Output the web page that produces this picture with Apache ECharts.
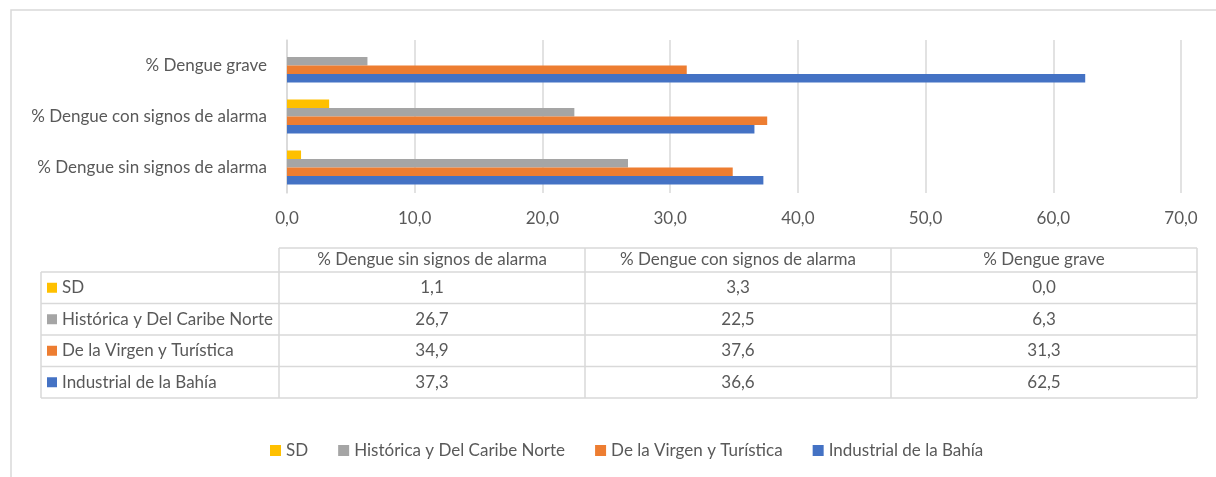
<!DOCTYPE html>
<html>
<head>
<meta charset="utf-8">
<script src="https://cdn.jsdelivr.net/npm/echarts@6/dist/echarts.min.js"></script>
<style>
  html, body { margin: 0; padding: 0; background: #fff; }
  #main { width: 1216px; height: 477px; }
</style>
</head>
<body>
<div id="main"></div>
<script>
// datos
const categories = ['% Dengue sin signos de alarma', '% Dengue con signos de alarma', '% Dengue grave'];
const seriesNames = ['SD', 'Histórica y Del Caribe Norte', 'De la Virgen y Turística', 'Industrial de la Bahía'];
const sdValues = [1.1, 3.3, 0.0];
const historicaValues = [26.7, 22.5, 6.3];
const virgenValues = [34.9, 37.6, 31.3];
const industrialValues = [37.3, 36.6, 62.5];
const colors = ['#FFC000', '#A5A5A5', '#ED7D31', '#4472C4'];

const allValues = [sdValues, historicaValues, virgenValues, industrialValues];
const FONT = 'Lato';
const FS = 17;
const TXT = '#595959';
const LINE = '#d9d9d9';

const fmt = v => v.toFixed(1).replace('.', ',');

const myChart = echarts.init(document.getElementById('main'));

// tabla de datos (debajo del grafico)
const colX = [41, 279, 585, 891, 1197];
const rowY = [248, 272, 303.5, 335, 366.5, 398];

const buildTable = () => {
  const els = [];
  // marco exterior
  els.push({
    type: 'rect', silent: true,
    shape: { x: 11, y: 10, width: 1230, height: 500 },
    style: { fill: 'none', stroke: LINE, lineWidth: 1.5 }
  });
  // lineas horizontales
  rowY.forEach((y, i) => {
    els.push({
      type: 'line', silent: true,
      shape: { x1: i === 0 ? colX[1] : colX[0], y1: y, x2: colX[4], y2: y },
      style: { stroke: LINE, lineWidth: 1.5 }
    });
  });
  // lineas verticales
  colX.forEach((x, i) => {
    els.push({
      type: 'line', silent: true,
      shape: { x1: x, y1: i === 0 ? rowY[1] : rowY[0], x2: x, y2: rowY[5] },
      style: { stroke: LINE, lineWidth: 1.5 }
    });
  });
  // encabezados
  categories.forEach((c, j) => {
    els.push({
      type: 'text', silent: true,
      x: (colX[j + 1] + colX[j + 2]) / 2, y: (rowY[0] + rowY[1]) / 2,
      style: { text: c, fill: TXT, font: FS + 'px ' + FONT, align: 'center', verticalAlign: 'middle' }
    });
  });
  // filas
  seriesNames.forEach((name, i) => {
    const cy = (rowY[i + 1] + rowY[i + 2]) / 2;
    els.push({
      type: 'rect', silent: true,
      shape: { x: 47, y: cy - 5, width: 10, height: 10 },
      style: { fill: colors[i] }
    });
    els.push({
      type: 'text', silent: true,
      x: 62, y: cy,
      style: { text: name, fill: TXT, font: FS + 'px ' + FONT, align: 'left', verticalAlign: 'middle' }
    });
    allValues[i].forEach((v, j) => {
      els.push({
        type: 'text', silent: true,
        x: (colX[j + 1] + colX[j + 2]) / 2, y: cy,
        style: { text: fmt(v), fill: TXT, font: FS + 'px ' + FONT, align: 'center', verticalAlign: 'middle' }
      });
    });
  });
  return els;
};

const option = {
  animation: false,
  color: colors,
  textStyle: { fontFamily: FONT, color: TXT },
  grid: { left: 287, right: 35, top: 40, bottom: 284 },
  legend: {
    data: seriesNames,
    left: 265, top: 437,
    icon: 'rect', itemWidth: 11, itemHeight: 11, itemGap: 30,
    textStyle: { fontFamily: FONT, fontSize: FS, color: TXT }
  },
  xAxis: {
    type: 'value', min: 0, max: 70, interval: 10,
    axisLine: { show: false }, axisTick: { show: false },
    splitLine: { lineStyle: { color: LINE, width: 1.5 } },
    axisLabel: { color: TXT, fontSize: FS, fontFamily: FONT, margin: 17, formatter: v => fmt(v) }
  },
  yAxis: {
    type: 'category', data: categories,
    axisLine: { show: true, lineStyle: { color: LINE, width: 1.5 } },
    axisTick: { show: false },
    axisLabel: { color: TXT, fontSize: FS, fontFamily: FONT, margin: 20 }
  },
  series: seriesNames.map((name, i) => ({
    name,
    type: 'bar',
    data: allValues[i],
    barWidth: 8.5,
    barGap: '0%'
  })),
  graphic: buildTable()
};

myChart.setOption(option);
</script>
</body>
</html>
